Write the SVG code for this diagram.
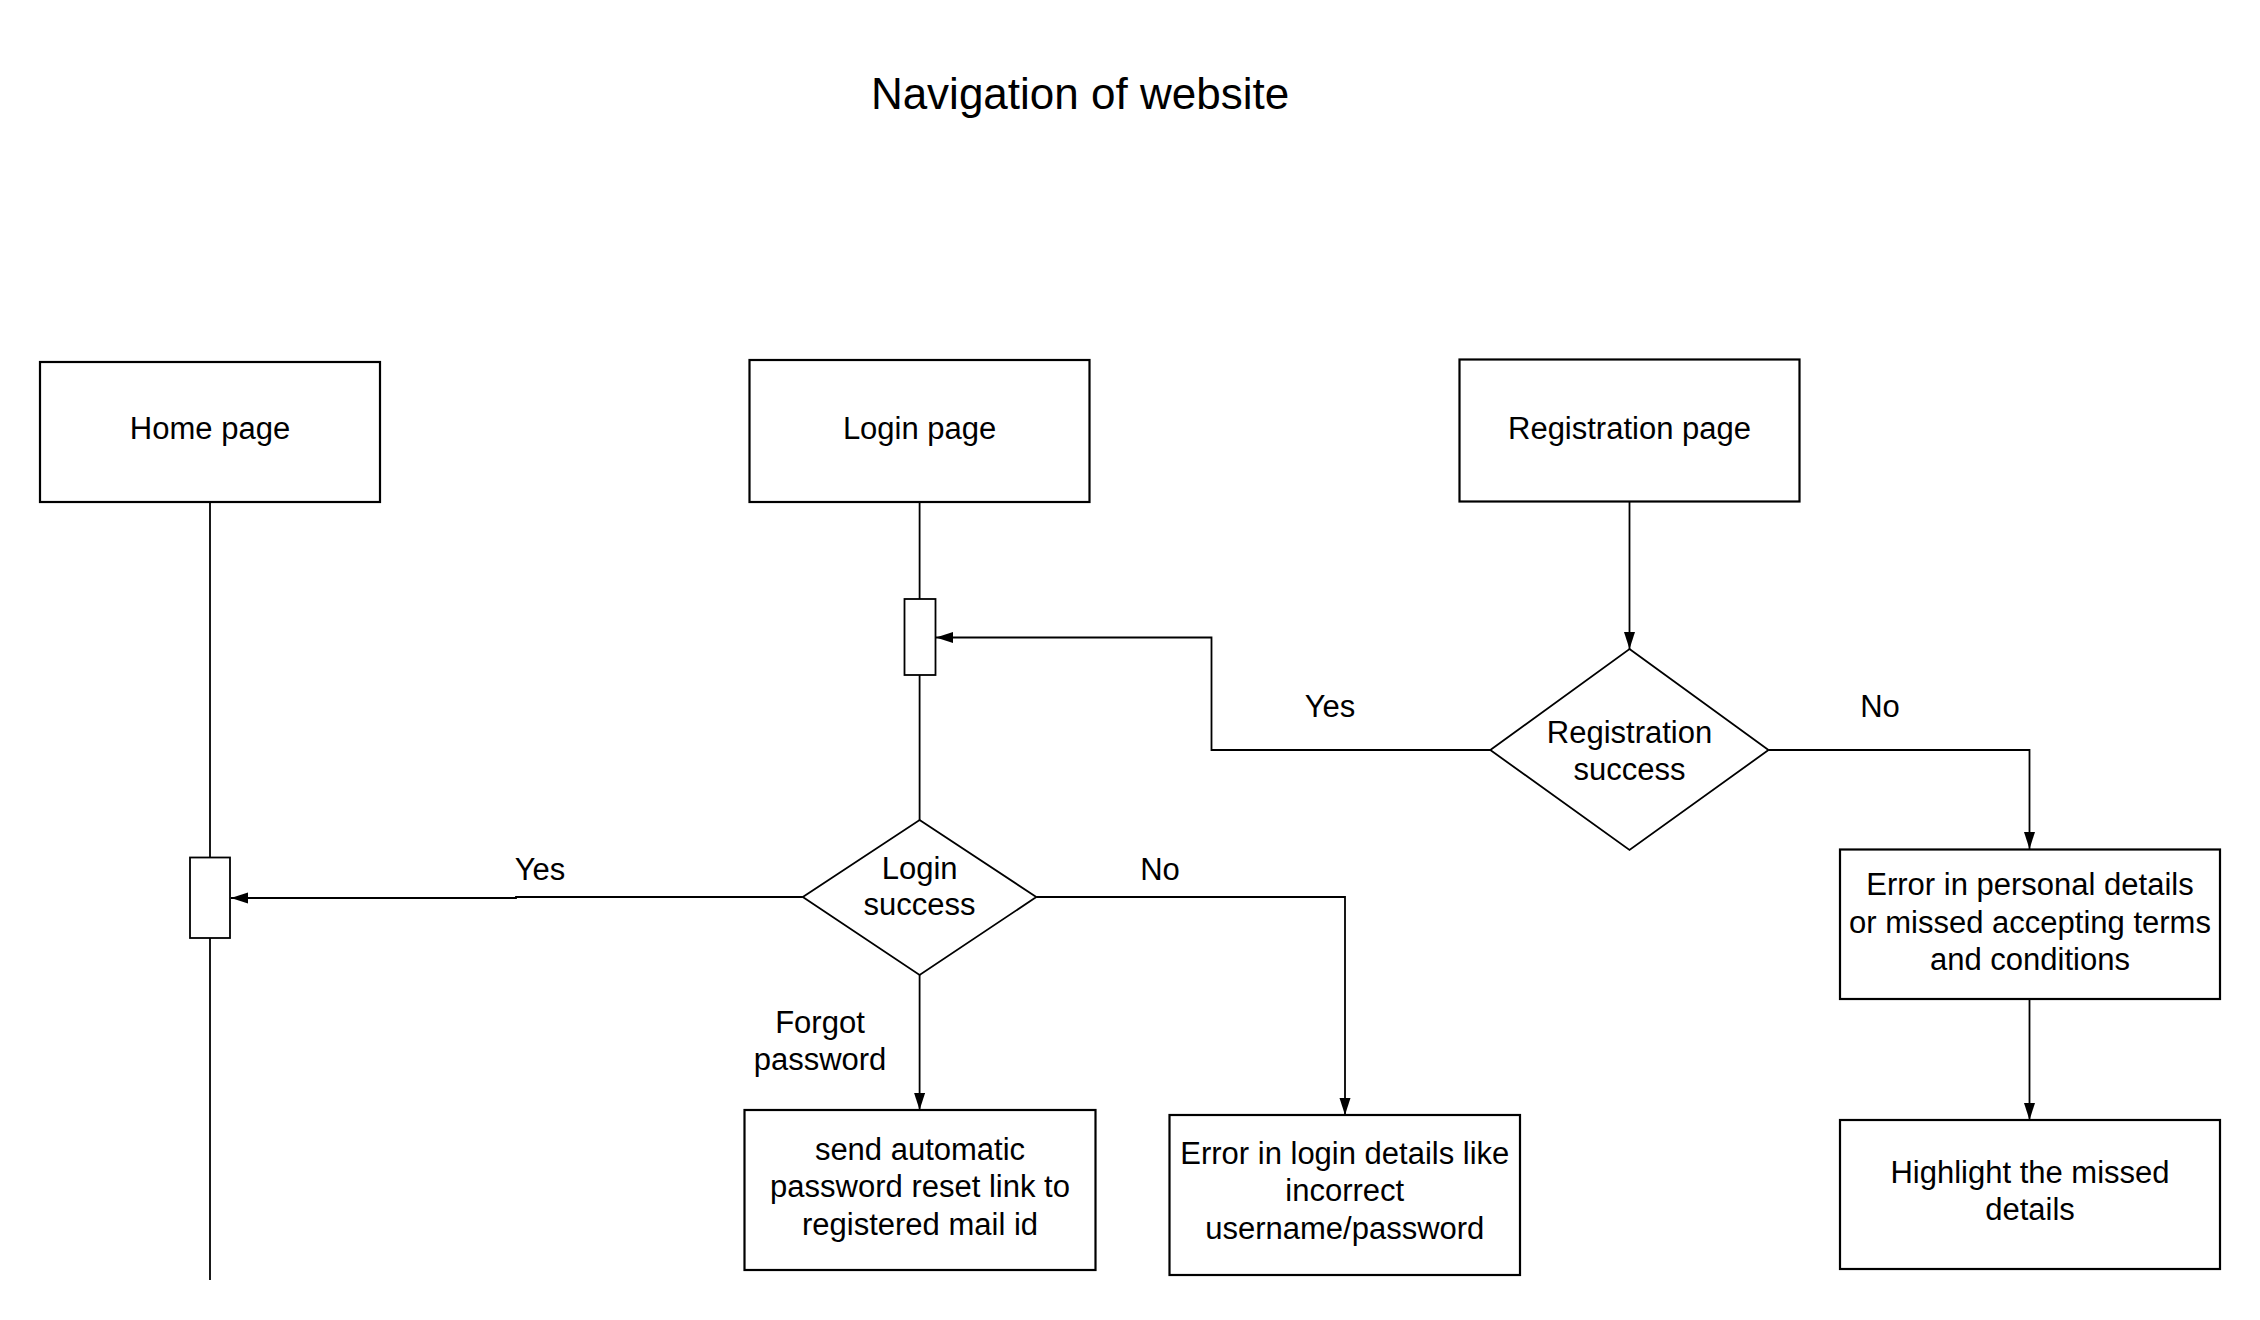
<svg xmlns="http://www.w3.org/2000/svg" width="2260" height="1320" viewBox="0 0 2260 1320">
  <style>
    text { font-family: "Liberation Sans", Arial, sans-serif; fill: #000; text-anchor: middle; }
    .title { font-size: 44px; }
    .lbl { font-size: 31px; }
    .box { fill: #fff; stroke: #000; stroke-width: 2.2; }
    .bar { fill: #fff; stroke: #000; stroke-width: 1.8; }
    .dia { fill: #fff; stroke: #000; stroke-width: 1.8; }
    .wire { fill: none; stroke: #000; stroke-width: 1.8; }
    .arrow { fill: none; stroke: #000; stroke-width: 1.8; marker-end: url(#head); }
  </style>
  <defs>
    <marker id="head" markerUnits="userSpaceOnUse" markerWidth="18" markerHeight="12" refX="17" refY="5.5" orient="auto">
      <path d="M0,0 L17,5.5 L0,11 z" fill="#000"/>
    </marker>
  </defs>
  <rect width="2260" height="1320" fill="#fff"/>

  <text class="title" x="1080" y="109">Navigation of website</text>

  <!-- connectors -->
  <g id="connectors">
    <path class="wire" d="M210,502 V1280"/>
    <path class="wire" d="M919.6,502 V820"/>
    <path class="arrow" d="M1629.5,502 V649"/>
    <path class="arrow" d="M1490.3,750 H1211.5 V637.5 H936"/>
    <path class="arrow" d="M1768.5,750 H2029.5 V849"/>
    <path class="arrow" d="M2029.5,999 V1120"/>
    <path class="arrow" d="M802.8,897 H516 V898 H231"/>
    <path class="arrow" d="M1036.3,897 H1345 V1115"/>
    <path class="arrow" d="M919.6,975 V1110"/>
    <text class="lbl" x="1330" y="717">Yes</text>
    <text class="lbl" x="1880" y="717">No</text>
    <text class="lbl" x="540" y="880">Yes</text>
    <text class="lbl" x="1160" y="880">No</text>
    <text class="lbl" x="820" y="1033">Forgot</text>
    <text class="lbl" x="820" y="1070">password</text>
  </g>

  <!-- nodes -->
  <g id="home-page">
    <rect class="box" x="40" y="362" width="340" height="140"/>
    <text class="lbl" x="210" y="438.5">Home page</text>
  </g>
  <g id="login-page">
    <rect class="box" x="749.5" y="360" width="340" height="142"/>
    <text class="lbl" x="919.6" y="438.5">Login page</text>
  </g>
  <g id="registration-page">
    <rect class="box" x="1459.5" y="359.5" width="340" height="142"/>
    <text class="lbl" x="1629.5" y="438.5">Registration page</text>
  </g>
  <g id="login-activation">
    <rect class="bar" x="904.5" y="599" width="31" height="76"/>
  </g>
  <g id="home-activation">
    <rect class="bar" x="190" y="857.5" width="40" height="80.5"/>
  </g>
  <g id="registration-success">
    <polygon class="dia" points="1629.5,649 1768.5,750 1629.5,850 1490.3,750"/>
    <text class="lbl" x="1629.5" y="742.5">Registration</text>
    <text class="lbl" x="1629.5" y="780">success</text>
  </g>
  <g id="login-success">
    <polygon class="dia" points="919.6,820 1036.3,897 919.6,975 802.8,897"/>
    <text class="lbl" x="919.6" y="878.5">Login</text>
    <text class="lbl" x="919.6" y="915">success</text>
  </g>
  <g id="password-reset">
    <rect class="box" x="744.5" y="1110" width="351" height="160"/>
    <text class="lbl" x="920" y="1160">send automatic</text>
    <text class="lbl" x="920" y="1197">password reset link to</text>
    <text class="lbl" x="920" y="1234.5">registered mail id</text>
  </g>
  <g id="login-error">
    <rect class="box" x="1169.5" y="1115" width="350.5" height="160"/>
    <text class="lbl" x="1344.8" y="1164">Error in login details like</text>
    <text class="lbl" x="1344.8" y="1201">incorrect</text>
    <text class="lbl" x="1344.8" y="1238.5">username/password</text>
  </g>
  <g id="registration-error">
    <rect class="box" x="1840" y="849.5" width="380" height="149.5"/>
    <text class="lbl" x="2030" y="895">Error in personal details</text>
    <text class="lbl" x="2030" y="932.5">or missed accepting terms</text>
    <text class="lbl" x="2030" y="970">and conditions</text>
  </g>
  <g id="highlight-missed">
    <rect class="box" x="1840" y="1120" width="380" height="149"/>
    <text class="lbl" x="2030" y="1183">Highlight the missed</text>
    <text class="lbl" x="2030" y="1220">details</text>
  </g>
</svg>
